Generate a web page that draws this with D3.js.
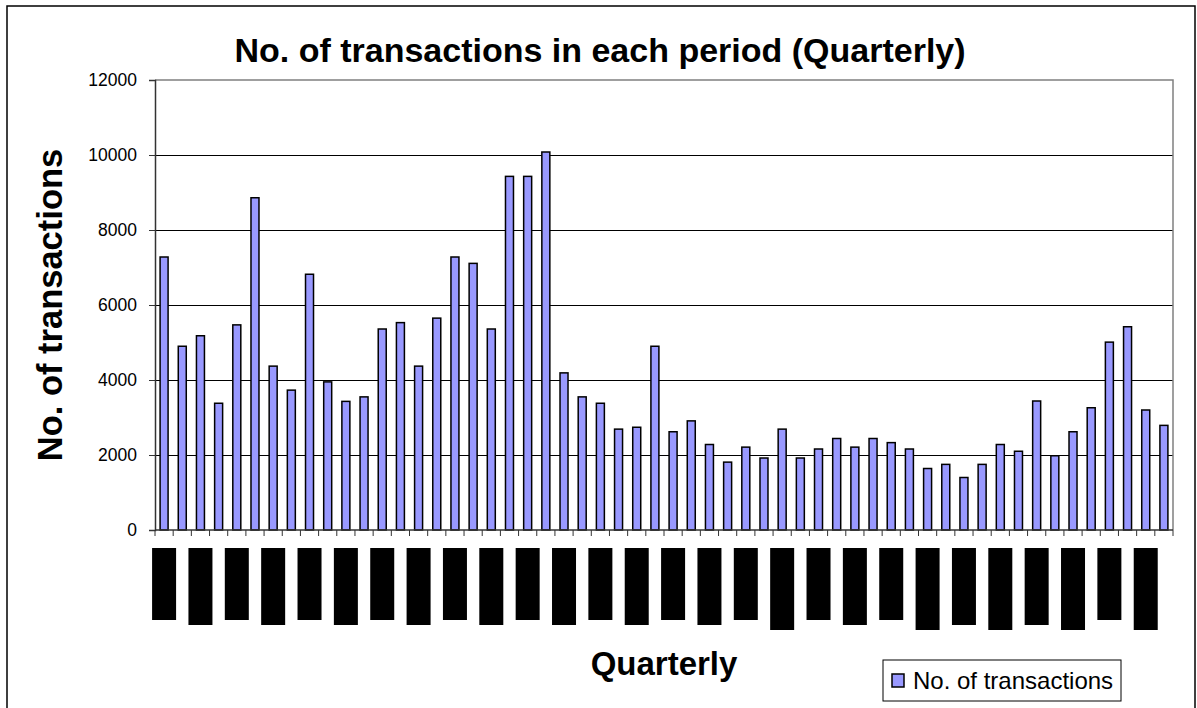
<!DOCTYPE html>
<html>
<head>
	<meta charset="utf-8">
	<title>No. of transactions in each period (Quarterly)</title>
	<style>
		body { margin: 0; background: #fff; }
		text { font-family: "Liberation Sans", Arial, sans-serif; }
	</style>
</head>
<body>
	<script src="https://d3js.org/d3.v7.min.js" charset="utf-8"></script>
	<script>
// quarters 1..56 (the category labels in the source are unreadable black blocks)
var quarters = d3.range(1, 57);

var transactions = [
	7280, 4900, 5180, 3380, 5470, 8860, 4370, 3730, 6820, 3950,
	3430, 3550, 5360, 5530, 4370, 5650, 7280, 7110, 5360, 9430,
	9430, 10080, 4190, 3550, 3380, 2690, 2740, 4900, 2620, 2910,
	2280, 1810, 2210, 1920, 2690, 1920, 2160, 2440, 2210, 2440,
	2330, 2160, 1640, 1750, 1400, 1750, 2280, 2100, 3440, 1980,
	2620, 3260, 5010, 5420, 3200, 2790
];

var yTicks = [0, 2000, 4000, 6000, 8000, 10000, 12000];

var seriesName = 'No. of transactions';
var title = 'No. of transactions in each period (Quarterly)';
var xTitle = 'Quarterly';

var width = 1197, height = 708;
var plot = { left: 155, right: 1173, top: 80, bottom: 530 };

var svg = d3.select('body').append('svg')
			.attr('width', width)
			.attr('height', height);

// outer frame
svg.append('rect')
	.attr('x', 7).attr('y', 6)
	.attr('width', 1188).attr('height', 740)
	.attr('fill', 'none')
	.attr('stroke', '#000')
	.attr('stroke-width', 1.5);

var x = d3.scaleBand()
	.domain(quarters)
	.range([plot.left, plot.right])
	.paddingInner(0.56)
	.paddingOuter(0.28);

var y = d3.scaleLinear()
	.domain([0, 12000])
	.range([plot.bottom, plot.top]);

// gridlines
svg.append('g')
	.selectAll('line')
	.data(yTicks.filter(function(d) { return d > 0 && d < 12000; }))
	.enter().append('line')
	.attr('x1', plot.left).attr('x2', plot.right)
	.attr('y1', function(d) { return Math.round(y(d)) + 0.5; })
	.attr('y2', function(d) { return Math.round(y(d)) + 0.5; })
	.attr('stroke', '#000')
	.attr('stroke-width', 1);

// plot border top / right
svg.append('path')
	.attr('d', 'M' + plot.left + ',' + plot.top + 'H' + plot.right + 'V' + plot.bottom)
	.attr('fill', 'none')
	.attr('stroke', '#808080')
	.attr('stroke-width', 1.5);

// bars
svg.append('g')
	.selectAll('rect')
	.data(transactions)
	.enter().append('rect')
	.attr('x', function(d, i) { return x(quarters[i]); })
	.attr('y', function(d) { return y(d); })
	.attr('width', x.bandwidth())
	.attr('height', function(d) { return y(0) - y(d); })
	.attr('fill', '#9999ff')
	.attr('stroke', '#000')
	.attr('stroke-width', 1.5);

// y axis
var yAxis = svg.append('g')
	.attr('transform', 'translate(' + plot.left + ',0)')
	.call(d3.axisLeft(y).tickValues(yTicks).tickFormat(d3.format('d')).tickSize(6).tickPadding(12));
yAxis.select('.domain').attr('stroke', '#333').attr('stroke-width', 1.5);
yAxis.selectAll('.tick line').attr('stroke', '#333');
yAxis.selectAll('.tick text')
	.attr('font-size', '17.5px')
	.attr('fill', '#000')
	.attr('font-family', '"Liberation Sans", Arial, sans-serif');

// x axis: ticks at category boundaries
var boundaries = d3.range(quarters.length + 1).map(function(i) {
	return plot.left + i * (plot.right - plot.left) / quarters.length;
});
svg.append('line')
	.attr('x1', plot.left).attr('x2', plot.right)
	.attr('y1', plot.bottom).attr('y2', plot.bottom)
	.attr('stroke', '#333').attr('stroke-width', 1.5);
svg.append('g')
	.selectAll('line')
	.data(boundaries)
	.enter().append('line')
	.attr('x1', function(d) { return d; }).attr('x2', function(d) { return d; })
	.attr('y1', plot.bottom).attr('y2', plot.bottom + 6)
	.attr('stroke', '#333').attr('stroke-width', 1);

// category labels appear as solid black blocks (every second quarter)
var blockDepth = [0, 5, 0, 5, 0, 5, 0, 5, 0, 5, 0, 5, 0, 5,
	0, 5, 0, 10, 0, 5, 0, 10, 5, 10, 5, 10, 0, 10];
svg.append('g')
	.selectAll('rect')
	.data(quarters.filter(function(d, i) { return i % 2 === 0; }))
	.enter().append('rect')
	.attr('x', function(d) { return x(d) + x.bandwidth() / 2 - 12; })
	.attr('y', 548)
	.attr('width', 24)
	.attr('height', function(d, i) { return 72 + blockDepth[i]; })
	.attr('fill', '#000');

// titles
svg.append('text')
	.attr('x', 600).attr('y', 62)
	.attr('text-anchor', 'middle')
	.attr('font-size', '34px')
	.attr('font-weight', 'bold')
	.text(title);

svg.append('text')
	.attr('transform', 'translate(62,305) rotate(-90)')
	.attr('text-anchor', 'middle')
	.attr('font-size', '34.5px')
	.attr('font-weight', 'bold')
	.text(seriesName);

svg.append('text')
	.attr('x', 664).attr('y', 675)
	.attr('text-anchor', 'middle')
	.attr('font-size', '33px')
	.attr('font-weight', 'bold')
	.text(xTitle);

// legend
var legend = svg.append('g');
legend.append('rect')
	.attr('x', 883).attr('y', 660)
	.attr('width', 238).attr('height', 41)
	.attr('fill', '#fff')
	.attr('stroke', '#000')
	.attr('stroke-width', 1);
legend.append('rect')
	.attr('x', 892).attr('y', 674)
	.attr('width', 12).attr('height', 13)
	.attr('fill', '#9999ff')
	.attr('stroke', '#000')
	.attr('stroke-width', 1.5);
legend.append('text')
	.attr('x', 913).attr('y', 689)
	.attr('font-size', '24px')
	.text(seriesName);
	</script>
</body>
</html>
